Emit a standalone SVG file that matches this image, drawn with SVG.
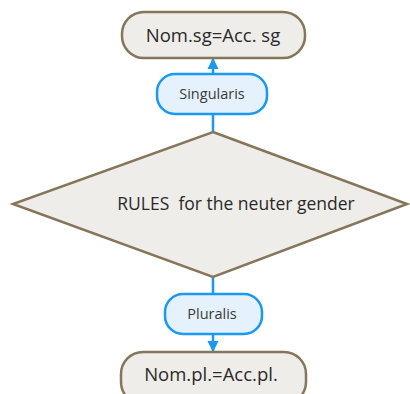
<svg xmlns="http://www.w3.org/2000/svg" width="410" height="394" viewBox="0 0 410 394">
  <style>
    .term { fill: #efede9; stroke: #85765b; stroke-width: 2.5; }
    .label { fill: #e5f2fd; stroke: #1a98f2; stroke-width: 2.5; }
    .flow { stroke: #1a98f2; stroke-width: 2.5; fill: none; }
    text { font-family: "Open Sans", "Noto Sans", sans-serif; fill: #2a2a2a; text-anchor: middle; }
    .small { font-size: 14.5px; fill: #3a3a3a; }
  </style>
  <defs>
    <marker id="arrow" viewBox="0 0 10 10" refX="9" refY="5" markerWidth="4.5" markerHeight="4.5" orient="auto" markerUnits="strokeWidth">
      <path d="M0,0 L10,5 L0,10 z" fill="#1a98f2"/>
    </marker>
  </defs>
  <rect width="410" height="394" fill="#ffffff"/>

  <g id="connectors">
    <line class="flow" x1="213" y1="132" x2="213" y2="115"/>
    <line class="flow" x1="213" y1="73" x2="213" y2="59" marker-end="url(#arrow)"/>
    <line class="flow" x1="213" y1="277" x2="213" y2="293"/>
    <line class="flow" x1="213" y1="335" x2="213" y2="351" marker-end="url(#arrow)"/>
  </g>

  <g id="nom-sg">
    <rect class="term" x="122" y="12" width="183" height="46" rx="22"/>
    <text x="213" y="42" font-size="18.5">Nom.sg=Acc. sg</text>
  </g>

  <g id="singularis">
    <rect class="label" x="157" y="74" width="110" height="40" rx="18"/>
    <text class="small" x="212" y="99">Singularis</text>
  </g>

  <g id="rules">
    <polygon class="term" points="213,132 407,204 213,277 13,204"/>
    <text x="236" y="210" font-size="17.5" xml:space="preserve">RULES  for the neuter gender</text>
  </g>

  <g id="pluralis">
    <rect class="label" x="165" y="294" width="97" height="40" rx="18"/>
    <text class="small" x="212" y="319">Pluralis</text>
  </g>

  <g id="nom-pl">
    <rect class="term" x="121" y="352" width="185" height="52" rx="22"/>
    <text x="211" y="381" font-size="18.5">Nom.pl.=Acc.pl.</text>
  </g>
</svg>
